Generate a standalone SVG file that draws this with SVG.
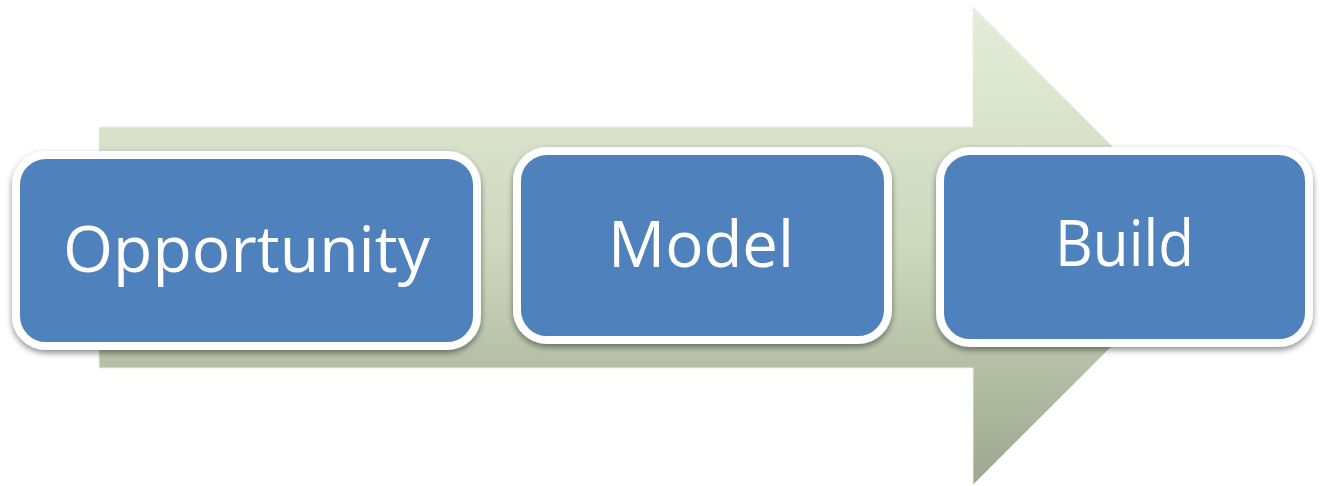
<svg xmlns="http://www.w3.org/2000/svg" width="1322" height="486" viewBox="0 0 1322 486">
  <defs>
    <linearGradient id="arrowGrad" x1="0" y1="7" x2="0" y2="485" gradientUnits="userSpaceOnUse">
      <stop offset="0" stop-color="#e4edd9"/>
      <stop offset="0.5" stop-color="#cdd8be"/>
      <stop offset="1" stop-color="#9ca88e"/>
    </linearGradient>
    <filter id="shadow" x="-10%" y="-10%" width="120%" height="130%">
      <feGaussianBlur in="SourceAlpha" stdDeviation="3"/>
      <feOffset dx="0" dy="3" result="b"/>
      <feComponentTransfer><feFuncA type="linear" slope="0.45"/></feComponentTransfer>
      <feMerge><feMergeNode/><feMergeNode in="SourceGraphic"/></feMerge>
    </filter>
  </defs>
  <style>
    .box { fill: #4f81bd; stroke: #ffffff; stroke-width: 8; filter: url(#shadow); }
    .label { fill: #ffffff; font-family: "Open Sans", "Liberation Sans", sans-serif; font-size: 64px; text-anchor: middle; }
  </style>
  <rect width="1322" height="486" fill="#ffffff"/>
  <g id="connectors">
    <path id="process-arrow" d="M99,127 H973 V7 L1212,246 L973,485 V368 H99 Z" fill="url(#arrowGrad)" stroke="#e9f1e0" stroke-width="1"/>
  </g>
  <g id="node-opportunity">
    <rect class="box" x="16" y="155" width="461" height="191" rx="30" ry="30"/>
    <text class="label" x="246.5" y="272" textLength="367" lengthAdjust="spacingAndGlyphs">Opportunity</text>
  </g>
  <g id="node-model">
    <rect class="box" x="517" y="151" width="371" height="189" rx="30" ry="30"/>
    <text class="label" x="701" y="267" textLength="186" lengthAdjust="spacingAndGlyphs">Model</text>
  </g>
  <g id="node-build">
    <rect class="box" x="940" y="151" width="369" height="192" rx="30" ry="30"/>
    <text class="label" x="1124.5" y="266" textLength="139" lengthAdjust="spacingAndGlyphs">Build</text>
  </g>
</svg>
